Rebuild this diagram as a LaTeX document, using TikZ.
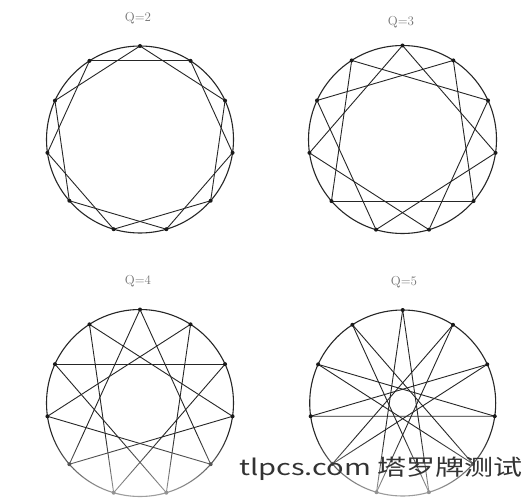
\documentclass[tikz,border=0pt]{standalone}
\usepackage{fontspec}
\newfontfamily\cjk{Noto Sans CJK SC}
\usetikzlibrary{fadings}
\tikzfading[name=fadedown, top color=transparent!100, bottom color=transparent!40]
\newcommand\starfig[5]{%
  \node[ring, circle, minimum size=2*#4 pt, inner sep=0pt] (#1c) at (#2,#3) {};
  \foreach \k in {0,...,10} {\coordinate (#1\k) at ({#2+#4*sin(\k*360/11)},{#3-#4*cos(\k*360/11)});}
  \foreach \k in {0,...,10} {\pgfmathtruncatemacro\j{mod(\k+#5,11)}\draw[chord] (#1\k) -- (#1\j);}
  \foreach \k in {0,...,10} {\node[vdot] (#1d\k) at (#1\k) {};}
}
\begin{document}
\begin{tikzpicture}[x=1pt,y=-1pt,
  ring/.style={draw=black!85, line width=1.1pt},
  chord/.style={draw=black!85, line width=0.9pt},
  vdot/.style={fill=black!90, circle, inner sep=0pt, minimum size=4pt},
  qlabel/.style={text=black!55, font=\fontsize{13}{15}\selectfont}]
\useasboundingbox (0,0) rectangle (526,500);
\fill[white] (0,0) rectangle (526,500);
\starfig{A}{140}{139.5}{93.5}{2}
\starfig{B}{402.5}{139.5}{94}{3}
\starfig{C}{140}{403}{93.5}{4}
\starfig{D}{402.7}{403}{93}{5}
\fill[white, path fading=fadedown] (0,435) rectangle (526,500);
\node[qlabel] (qa) at (138,18) {Q=2};
\node[qlabel] (qb) at (401,22) {Q=3};
\node[qlabel] (qc) at (138,281) {Q=4};
\node[qlabel] (qd) at (404,282) {Q=5};
\node[anchor=base west, xscale=1.32, inner sep=0pt, font=\cjk\fontsize{22}{22}\selectfont, text=black!80] (wm) at (239,475) {tlpcs.com 塔罗牌测试};
\end{tikzpicture}
\end{document}
